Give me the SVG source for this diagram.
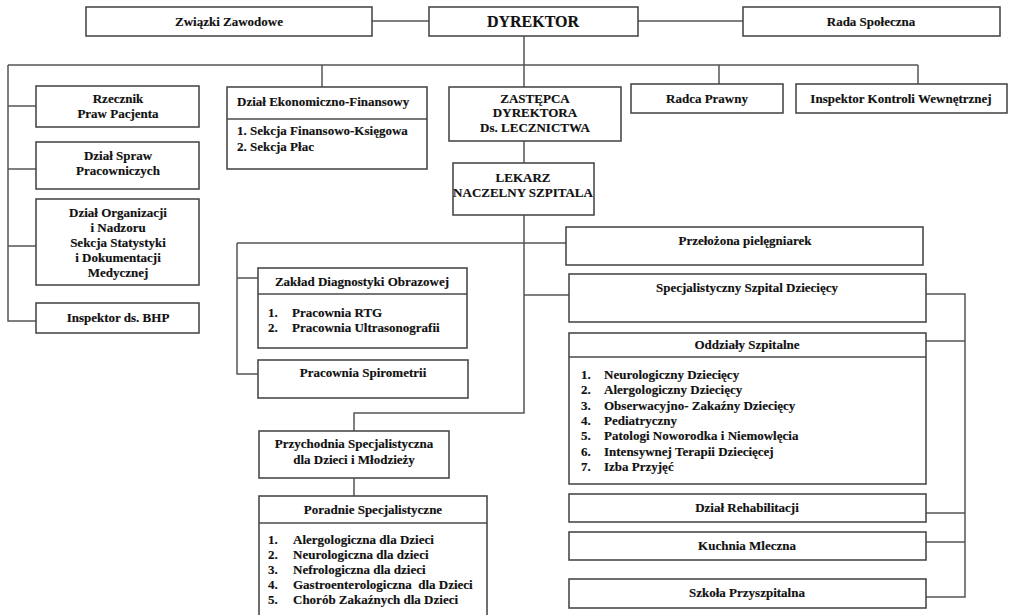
<svg xmlns="http://www.w3.org/2000/svg" width="1010" height="615" viewBox="0 0 1010 615">
<style>
.b{fill:#fff;stroke:#4a4a4a;stroke-width:1.6}
.d{stroke:#4a4a4a;stroke-width:1.4;fill:none}
.c{stroke:#555;stroke-width:1.5;fill:none}
text{font-family:"Liberation Serif","Times New Roman",serif;font-weight:bold;font-size:13px;fill:#111;stroke:#111;stroke-width:0.15}
.m{text-anchor:middle}
.big{font-size:16px}
</style>
<rect width="1010" height="615" fill="#fff"/>
<g id="connectors" class="c">
<path d="M372 21H429M638 21H743"/>
<path d="M524 36V87"/>
<path d="M8 65H918M322 65V87M719 65V84M918 65V84"/>
<path d="M8 65V321H36M8 106H36M8 169H36M8 246H36"/>
<path d="M524 141V163"/>
<path d="M524 215V413H354V431"/>
<path d="M237 243H566M237 243V374H258M237 278H258"/>
<path d="M524 295H569"/>
<path d="M926 294H965V597H926M926 341H965M926 513H965M926 542H965"/>
<path d="M354 478V496"/>
</g>
<g id="zwiazki"><rect class="b" x="86" y="7" width="286" height="29"/><text class="m" x="229" y="26">Związki Zawodowe</text></g>
<g id="dyrektor"><rect class="b" x="429" y="7" width="209" height="29"/><text class="m big" x="533" y="27">DYREKTOR</text></g>
<g id="rada"><rect class="b" x="743" y="7" width="257" height="29"/><text class="m" x="871" y="26">Rada Społeczna</text></g>
<g id="rzecznik"><rect class="b" x="36" y="86" width="163" height="41"/><text class="m" x="118" y="103">Rzecznik</text><text class="m" x="118" y="118">Praw Pacjenta</text></g>
<g id="spraw"><rect class="b" x="36" y="142" width="163" height="47"/><text class="m" x="118" y="160">Dział Spraw</text><text class="m" x="118" y="175">Pracowniczych</text></g>
<g id="organizacji"><rect class="b" x="36" y="199" width="163" height="86"/><text class="m" x="118" y="217">Dział Organizacji</text><text class="m" x="118" y="232">i Nadzoru</text><text class="m" x="118" y="247">Sekcja Statystyki</text><text class="m" x="118" y="262">i Dokumentacji</text><text class="m" x="118" y="277">Medycznej</text></g>
<g id="bhp"><rect class="b" x="36" y="303" width="163" height="30"/><text class="m" x="118" y="322">Inspektor ds. BHP</text></g>
<g id="ekonomiczno"><rect class="b" x="227" y="87" width="200" height="82"/><path class="d" d="M227 119H427"/><text x="237" y="106">Dział Ekonomiczno-Finansowy</text><text x="237" y="135">1. Sekcja Finansowo-Księgowa</text><text x="237" y="151">2. Sekcja Płac</text></g>
<g id="zastepca"><rect class="b" x="449" y="87" width="172" height="54"/><text class="m" x="535" y="103">ZASTĘPCA</text><text class="m" x="535" y="117">DYREKTORA</text><text class="m" x="535" y="132">Ds. LECZNICTWA</text></g>
<g id="radca"><rect class="b" x="631" y="84" width="152" height="29"/><text class="m" x="707" y="103">Radca Prawny</text></g>
<g id="inspektor-kw"><rect class="b" x="796" y="84" width="211" height="29"/><text class="m" x="901" y="103">Inspektor Kontroli Wewnętrznej</text></g>
<g id="lekarz"><rect class="b" x="453" y="163" width="141" height="52"/><text class="m" x="523" y="182">LEKARZ</text><text class="m" x="523" y="197">NACZELNY SZPITALA</text></g>
<g id="przelozona"><rect class="b" x="566" y="227" width="357" height="38"/><text class="m" x="745" y="245">Przełożona pielęgniarek</text></g>
<g id="zaklad"><rect class="b" x="258" y="268" width="209" height="80"/><path class="d" d="M258 294H467"/><text class="m" x="362" y="286">Zakład Diagnostyki Obrazowej</text><text x="268" y="317">1.</text><text x="292" y="317">Pracownia RTG</text><text x="268" y="332">2.</text><text x="292" y="332">Pracownia Ultrasonografii</text></g>
<g id="spirometrii"><rect class="b" x="258" y="360" width="210" height="38"/><text class="m" x="363" y="377">Pracownia Spirometrii</text></g>
<g id="szpital"><rect class="b" x="569" y="274" width="357" height="48"/><text class="m" x="747" y="292">Specjalistyczny Szpital Dziecięcy</text></g>
<g id="oddzialy"><rect class="b" x="569" y="333" width="357" height="151"/><path class="d" d="M569 357H926"/><text class="m" x="747" y="349">Oddziały Szpitalne</text>
<text x="581" y="379">1.</text><text x="604" y="379">Neurologiczny Dziecięcy</text>
<text x="581" y="394">2.</text><text x="604" y="394">Alergologiczny Dziecięcy</text>
<text x="581" y="410">3.</text><text x="604" y="410">Obserwacyjno- Zakaźny Dziecięcy</text>
<text x="581" y="425">4.</text><text x="604" y="425">Pediatryczny</text>
<text x="581" y="440">5.</text><text x="604" y="440">Patologi Noworodka i Niemowlęcia</text>
<text x="581" y="456">6.</text><text x="604" y="456">Intensywnej Terapii Dziecięcej</text>
<text x="581" y="471">7.</text><text x="604" y="471">Izba Przyjęć</text></g>
<g id="rehabilitacji"><rect class="b" x="569" y="494" width="357" height="28"/><text class="m" x="747" y="512">Dział Rehabilitacji</text></g>
<g id="kuchnia"><rect class="b" x="569" y="532" width="357" height="28"/><text class="m" x="747" y="550">Kuchnia Mleczna</text></g>
<g id="szkola"><rect class="b" x="569" y="579" width="357" height="29"/><text class="m" x="747" y="597">Szkoła Przyszpitalna</text></g>
<g id="przychodnia"><rect class="b" x="259" y="431" width="190" height="47"/><text class="m" x="354" y="448">Przychodnia Specjalistyczna</text><text class="m" x="354" y="464">dla Dzieci i Młodzieży</text></g>
<g id="poradnie"><rect class="b" x="259" y="496" width="228" height="124"/><path class="d" d="M259 523H487"/><text class="m" x="373" y="514">Poradnie Specjalistyczne</text>
<text x="268" y="544">1.</text><text x="293" y="544">Alergologiczna dla Dzieci</text>
<text x="268" y="559">2.</text><text x="293" y="559">Neurologiczna dla dzieci</text>
<text x="268" y="574">3.</text><text x="293" y="574">Nefrologiczna dla dzieci</text>
<text x="268" y="589">4.</text><text x="293" y="589">Gastroenterologiczna&#160; dla Dzieci</text>
<text x="268" y="604">5.</text><text x="293" y="604">Chorób Zakaźnych dla Dzieci</text></g>
</svg>
